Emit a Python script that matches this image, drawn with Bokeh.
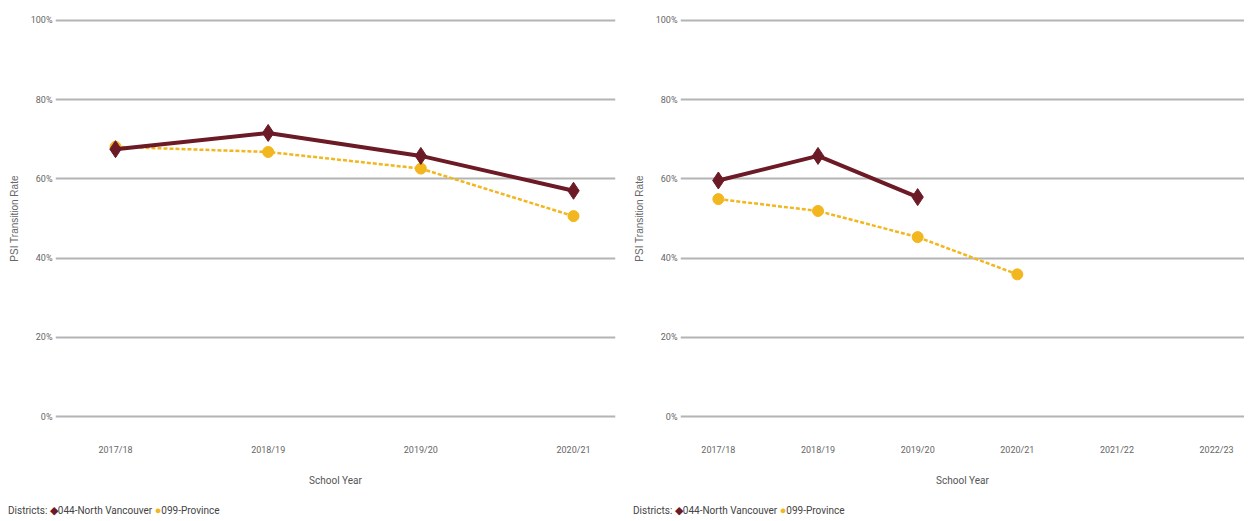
from bokeh.plotting import figure
from bokeh.models import ColumnDataSource, FixedTicker, Range1d, Div
from bokeh.layouts import row, column
from bokeh.embed import file_html
from bokeh.resources import INLINE

# ---- data ----
years_left = ["2017/18", "2018/19", "2019/20", "2020/21"]
nv_left = [67.5, 71.6, 65.8, 57.0]
prov_left = [68.1, 66.8, 62.6, 50.6]

years_right = ["2017/18", "2018/19", "2019/20", "2020/21", "2021/22", "2022/23"]
nv_right = [59.6, 65.8, 55.4]
prov_right = [54.9, 51.9, 45.3, 35.9]

y_ticks = [0, 20, 40, 60, 80, 100]
y_labels = ["0%", "20%", "40%", "60%", "80%", "100%"]

legend_title = "Districts:"
series_names = ["044-North Vancouver", "099-Province"]

MAROON = "#6b1a26"
GOLD = "#f2b61e"
GRID = "#b4b4b4"
FONT = "Roboto"
H = 500


def make_panel(years, nv, prov, width, x_range, border_left, border_right):
    p = figure(width=width, height=H, output_backend="svg", toolbar_location=None,
               x_range=Range1d(*x_range), y_range=Range1d(-1, 101),
               min_border_left=border_left, min_border_right=border_right,
               min_border_top=16, min_border_bottom=H - 420)
    p.outline_line_color = None
    p.background_fill_color = "white"

    # grid
    p.xgrid.grid_line_color = None
    p.ygrid.grid_line_color = GRID
    p.ygrid.grid_line_width = 2
    p.ygrid.ticker = FixedTicker(ticks=y_ticks)

    # y axis
    p.yaxis.ticker = FixedTicker(ticks=y_ticks)
    p.yaxis.major_label_overrides = {t: l for t, l in zip(y_ticks, y_labels)}
    p.yaxis.axis_line_color = None
    p.yaxis.major_tick_line_color = None
    p.yaxis.major_tick_out = 0
    p.yaxis.major_tick_in = 0
    p.yaxis.minor_tick_line_color = None
    p.yaxis.minor_tick_out = 0
    p.yaxis.major_label_text_font = FONT
    p.yaxis.major_label_text_font_size = "9px"
    p.yaxis.major_label_text_color = "#666666"
    p.yaxis.major_label_standoff = 3
    p.yaxis.axis_label = "PSI Transition Rate"
    p.yaxis.axis_label_text_font = "Liberation Sans"
    p.yaxis.axis_label_text_font_style = "normal"
    p.yaxis.axis_label_text_font_size = "10px"
    p.yaxis.axis_label_text_color = "#666666"
    p.yaxis.axis_label_standoff = 8

    # x axis
    idx = list(range(len(years)))
    p.xaxis.ticker = FixedTicker(ticks=idx)
    p.xaxis.major_label_overrides = {i: y for i, y in zip(idx, years)}
    p.xaxis.axis_line_color = None
    p.xaxis.major_tick_line_color = None
    p.xaxis.major_tick_out = 0
    p.xaxis.major_tick_in = 0
    p.xaxis.minor_tick_line_color = None
    p.xaxis.minor_tick_out = 0
    p.xaxis.major_label_text_font = FONT
    p.xaxis.major_label_text_font_size = "9px"
    p.xaxis.major_label_text_color = "#666666"
    p.xaxis.major_label_standoff = 24
    p.xaxis.axis_label = "School Year"
    p.xaxis.axis_label_text_font = FONT
    p.xaxis.axis_label_text_font_style = "normal"
    p.xaxis.axis_label_text_font_size = "10px"
    p.xaxis.axis_label_text_color = "#555555"
    p.xaxis.axis_label_standoff = 17

    src_nv = ColumnDataSource(dict(x=idx[:len(nv)], y=nv))
    src_pr = ColumnDataSource(dict(x=idx[:len(prov)], y=prov))

    p.line("x", "y", source=src_pr, line_color=GOLD, line_width=2.5, line_dash="4 2")
    p.scatter("x", "y", source=src_pr, marker="circle", size=11,
              fill_color=GOLD, line_color=GOLD)
    p.line("x", "y", source=src_nv, line_color=MAROON, line_width=4)
    p.scatter("x", "y", source=src_nv, marker="diamond", size=17,
              fill_color=MAROON, line_color=MAROON)
    return p


def legend_div(width, pad_left):
    html = (
        f'<div style="font-family:{FONT};font-size:10px;color:#444;'
        f'padding-left:{pad_left}px;white-space:nowrap;line-height:21px;">'
        f'{legend_title} '
        f'<span style="color:{MAROON};font-size:11px;">&#9670;</span>{series_names[0]} '
        f'<span style="color:{GOLD};font-size:11px;">&#9679;</span>{series_names[1]}'
        f'</div>'
    )
    return Div(text=html, width=width, height=21, margin=(0, 0, 0, 0))


p1 = make_panel(years_left, nv_left, prov_left, 630, (-0.393, 3.275), 55, 15)
p2 = make_panel(years_right, nv_right, prov_right, 614, (-0.38, 5.28), 48, 0)
d1 = legend_div(630, 8)
d2 = legend_div(614, 3)

layout = column(row(p1, p2), row(d1, d2))
open("out.html", "w").write(file_html(layout, INLINE))
